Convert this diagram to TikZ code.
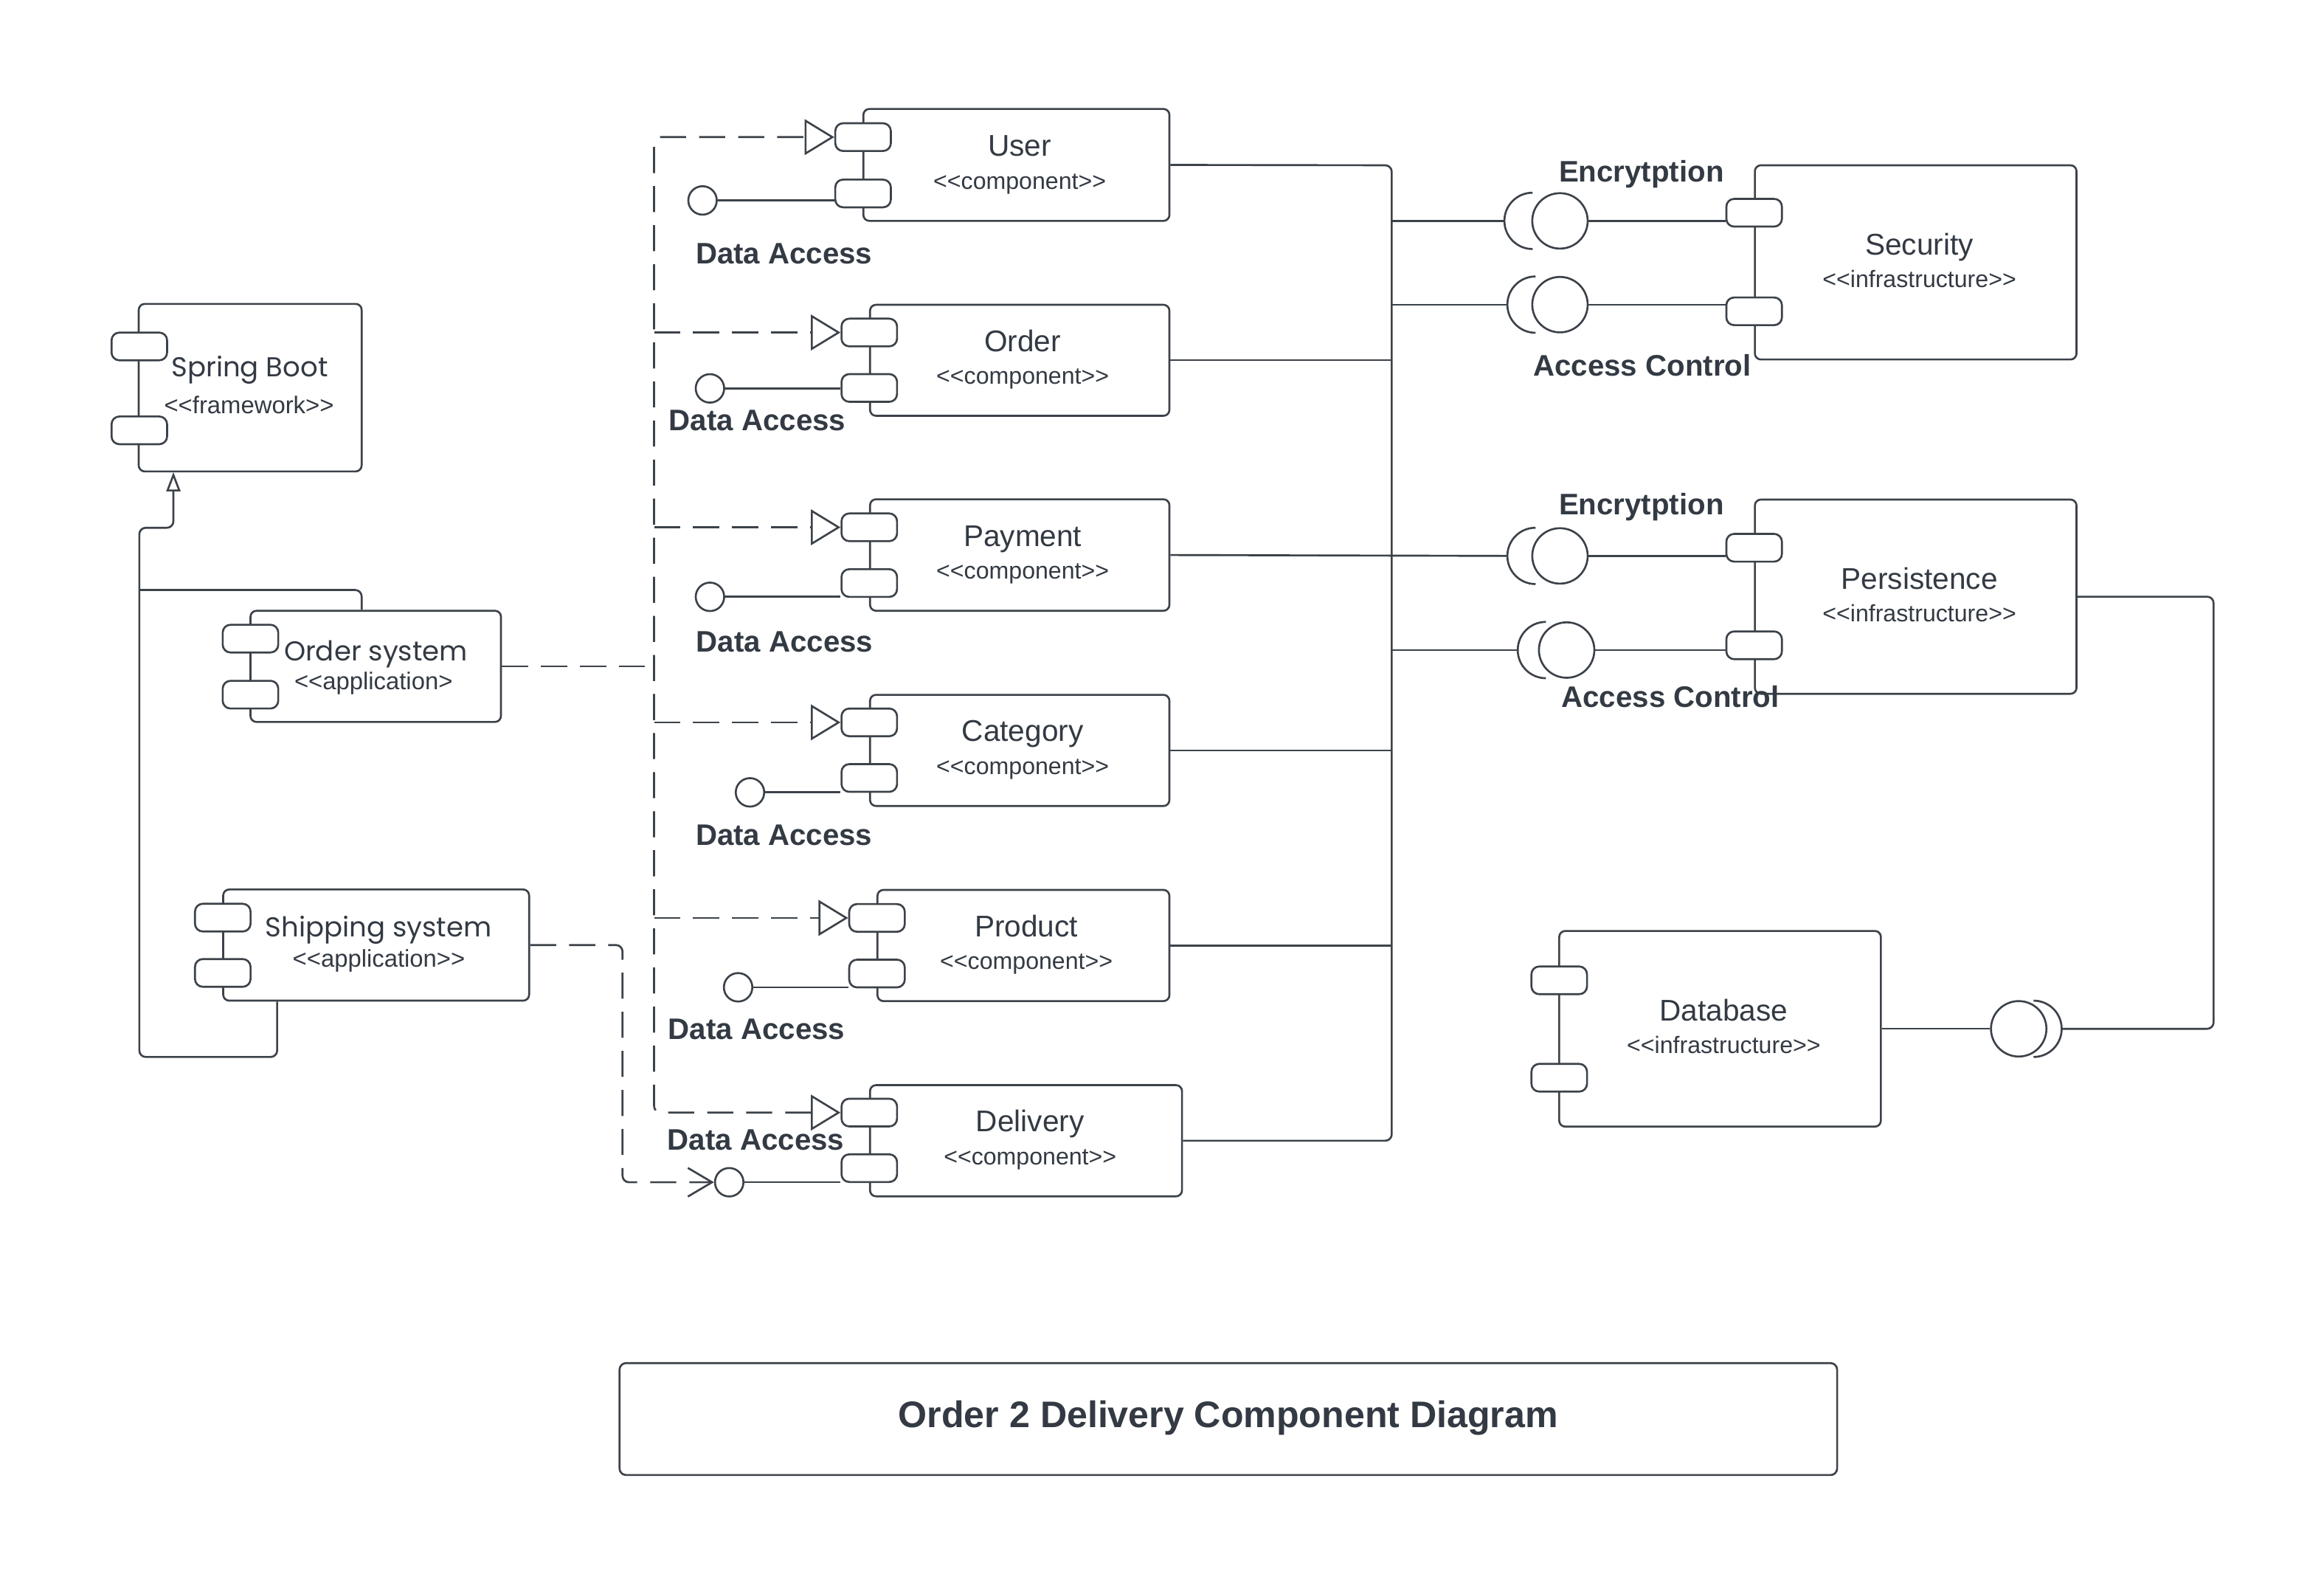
\documentclass[tikz,border=0pt]{standalone}
\usepackage{fontspec}
\setmainfont{Liberation Sans}
\newfontfamily\geo{Poppins}
\usetikzlibrary{arrows.meta}
\definecolor{ink}{HTML}{3C4249}
\definecolor{txt}{HTML}{333A43}
\newcommand\dlt{<\kern0pt<}
\newcommand\dgt{>\kern0pt>}
\newcommand\compbox[8]{%
  \node[box, minimum width={(#4-#2)*0.02cm}, minimum height={(#5-#3)*0.02cm}] (#1) at ({(#2+#4)/2},{(#3+#5)/2}) {};
  \node[port] (#1p1) at (#6,#7) {};
  \node[port] (#1p2) at (#6,#8) {};
}
\tikzset{
  mytri/.tip={Triangle[open,length=11.4pt,width=13.7pt,line width=0.75pt]},
  mybarb/.tip={Straight Barb[length=9.3pt,width=11pt,line width=0.75pt]},
  mygen/.tip={Triangle[open,length=7.4pt,width=5.4pt,line width=0.75pt]}
}
\begin{document}
\begin{tikzpicture}[x=0.02cm,y=-0.02cm,line join=round,
  box/.style={draw=ink, line width=0.75pt, rounded corners=2.3pt, fill=white, inner sep=0pt},
  port/.style={draw=ink, line width=0.75pt, rounded corners=3pt, fill=white, minimum width=0.75cm, minimum height=0.374cm, inner sep=0pt},
  conn/.style={draw=ink, line width=0.75pt, rounded corners=2.5pt},
  thinconn/.style={draw=ink, line width=0.45pt},
  dep/.style={draw=ink, line width=0.75pt, dash pattern=on 10pt off 5pt, rounded corners=2.5pt},
  ball/.style={circle, draw=ink, line width=0.75pt, fill=white, inner sep=0pt},
  sock/.style={draw=ink, line width=0.75pt},
  nm/.style={font=\fontsize{11.5}{13}\selectfont, text=txt, anchor=base, inner sep=0pt},
  st/.style={font=\fontsize{9.1}{11}\selectfont, text=txt, anchor=base, inner sep=0pt},
  gnm/.style={font=\geo\fontsize{10.5}{12}\selectfont, text=txt, anchor=base, inner sep=0pt},
  gst/.style={font=\fontsize{9.3}{11}\selectfont, text=txt, anchor=base, inner sep=0pt},
  lbl/.style={font=\bfseries\fontsize{11.4}{13}\selectfont, text=txt, anchor=base, inner sep=0pt},
  ttl/.style={font=\bfseries\fontsize{14.2}{16}\selectfont, text=txt, anchor=base, inner sep=0pt}
]
\fill[white] (0,0) rectangle (1568,1071);
\useasboundingbox (0,0) rectangle (1568,1071);

% ---------- components ----------
\compbox{spring}{93.6}{205}{244}{318}{94}{233.7}{290.3}
\compbox{os}{169}{412}{338}{487}{169}{430.8}{468.6}
\compbox{ship}{150.6}{600}{357}{675}{150.3}{619}{656.3}
\compbox{user}{582.5}{73.5}{789}{149}{582.3}{92.5}{130.5}
\compbox{order}{587}{205.6}{789}{280.5}{586.5}{224.3}{261.7}
\compbox{payment}{587}{336.8}{789}{412}{586.5}{355.7}{393.3}
\compbox{category}{587}{468.7}{789}{543.7}{586.5}{487.3}{524.8}
\compbox{product}{592}{600.3}{789}{675.3}{591.7}{619.2}{656.7}
\compbox{delivery}{587}{732}{797.5}{807}{586.5}{750.5}{788}
\compbox{security}{1184}{111.5}{1401}{242.5}{1183.5}{143.5}{210}
\compbox{persistence}{1184}{337}{1401}{468}{1183.5}{369.5}{435.3}
\compbox{database}{1052}{628}{1269}{760}{1052}{661.3}{727}

% ---------- texts ----------
\node[gnm] (springN) at (168.5,254) {Spring Boot};
\node[gst] (springS) at (168,279) {\dlt framework\dgt};
\node[gnm] (osN) at (253.6,446) {Order system};
\node[gst] (osS) at (252,465) {\dlt application>};
\node[gnm] (shipN) at (255.5,632) {Shipping system};
\node[gst] (shipS) at (255.6,652.5) {\dlt application\dgt};

\node[nm] (userN) at (688,105.5) {User};
\node[st] (userS) at (688,127.5) {\dlt component\dgt};
\node[nm] (orderN) at (690,237) {Order};
\node[st] (orderS) at (690,259) {\dlt component\dgt};
\node[nm] (paymentN) at (690,368.5) {Payment};
\node[st] (paymentS) at (690,390.5) {\dlt component\dgt};
\node[nm] (categoryN) at (690,500.2) {Category};
\node[st] (categoryS) at (690,522.2) {\dlt component\dgt};
\node[nm] (productN) at (692.5,631.8) {Product};
\node[st] (productS) at (692.5,653.8) {\dlt component\dgt};
\node[nm] (deliveryN) at (695,763.5) {Delivery};
\node[st] (deliveryS) at (695,785.5) {\dlt component\dgt};
\node[nm] (securityN) at (1295,172) {Security};
\node[st] (securityS) at (1295,194) {\dlt infrastructure\dgt};
\node[nm] (persistenceN) at (1295,397.5) {Persistence};
\node[st] (persistenceS) at (1295,419.5) {\dlt infrastructure\dgt};
\node[nm] (databaseN) at (1163,688.5) {Database};
\node[st] (databaseS) at (1163,710.5) {\dlt infrastructure\dgt};

\node[lbl] (daUser) at (529,178) {Data Access};
\node[lbl] (daOrder) at (511,290.5) {Data Access};
\node[lbl] (daPayment) at (529.4,440) {Data Access};
\node[lbl] (daCategory) at (529,570) {Data Access};
\node[lbl] (daProduct) at (510.5,701) {Data Access};
\node[lbl] (daDelivery) at (510,775.6) {Data Access};
\node[lbl] (encS) at (1107.5,122.5) {Encrytption};
\node[lbl] (acS) at (1108,253.5) {Access Control};
\node[lbl] (encP) at (1107.5,347) {Encrytption};
\node[lbl] (acP) at (1127,477) {Access Control};

% ---------- provided interfaces (Data Access) ----------
\node[ball, minimum size=0.384cm] (uc) at (474,135.2) {};
\node[ball, minimum size=0.384cm] (oc) at (479,262) {};
\node[ball, minimum size=0.384cm] (pc) at (479,402.6) {};
\node[ball, minimum size=0.384cm] (cc) at (506,534.5) {};
\node[ball, minimum size=0.384cm] (prc) at (498,666) {};
\node[ball, minimum size=0.384cm] (dc) at (492,797.5) {};
\draw[conn] (uc.east) -- (uc.east -| userp2.west);
\draw[conn] (oc.east) -- (oc.east -| orderp2.west);
\draw[conn] (pc.east) -- (pc.east -| paymentp2.west);
\draw[conn] (cc.east) -- (cc.east -| categoryp2.west);
\draw[conn] (prc.east) -- (prc.east -| productp2.west);
\draw[conn] (dc.east) -- (dc.east -| deliveryp2.west);

% ---------- dependency bus (dashed) ----------
\coordinate (c441) at (441.3,0);
\coordinate (c441top) at (441.3,92.5);
\draw[dep, mytri-mytri] (deliveryp1.west) -| (c441top) -- (userp1.west);
\draw[dep, -mytri] (orderp1.west -| c441) -- (orderp1.west);
\draw[dep, -mytri] (paymentp1.west -| c441) -- (paymentp1.west);
\draw[dep, -mytri] (categoryp1.west -| c441) -- (categoryp1.west);
\draw[dep, -mytri] (productp1.west -| c441) -- (productp1.west);
\draw[dep] (os.east) -- (os.east -| c441);
\coordinate (c420) at (420,797.5);
\draw[dep, -mybarb] (ship.east) -| (c420) -- (dc.west);

% ---------- generalization to Spring Boot ----------
\coordinate (c187) at (187,0);
\coordinate (c244) at (244,0);
\coordinate (g1) at (187,713);
\coordinate (g2) at (94,713);
\coordinate (g3) at (94,356);
\coordinate (g4) at (117,356);
\coordinate (gtip) at (117,318.5);
\coordinate (g5) at (244,398);
\coordinate (g6) at (94,398);
\draw[conn, -mygen] (ship.south -| c187) -- (g1) -- (g2) -- (g3) -- (g4) -- (gtip);
\draw[conn] (os.north -| c244) -- (g5) -- (g6);

% ---------- right bus ----------
\coordinate (busT) at (939,111.5);
\coordinate (busB) at (939,769.5);
\draw[conn] (user.east) -- (busT) -- (busB) -- (delivery.east);
\draw[thinconn] (order.east) -- (order.east -| busT);
\draw[thinconn] (category.east) -- (category.east -| busT);
\draw[conn] (product.east) -- (product.east -| busT);

% ---------- required / provided interfaces (lollipops) ----------
\node[ball, minimum size=0.748cm] (secEncB) at (1052.5,149) {};
\node[ball, minimum size=0.748cm] (secACB) at (1052.5,205.5) {};
\node[ball, minimum size=0.748cm] (perEncB) at (1052.5,375) {};
\node[ball, minimum size=0.748cm] (perACB) at (1057,438.5) {};
\node[ball, minimum size=0.748cm] (dbB) at (1362,694) {};
\draw[sock] (1034,130) arc[start angle=90, end angle=270, radius=0.38cm];
\draw[sock] (1036,186.5) arc[start angle=90, end angle=270, radius=0.38cm];
\draw[sock] (1036,356) arc[start angle=90, end angle=270, radius=0.38cm];
\draw[sock] (1043,419.5) arc[start angle=90, end angle=270, radius=0.38cm];
\draw[sock] (1372,675) arc[start angle=90, end angle=-90, radius=0.38cm];
\coordinate (secEncS) at (1015,149);
\coordinate (secACS) at (1017,205.5);
\coordinate (perEncS) at (1017,375);
\coordinate (perACS) at (1024,438.5);
\coordinate (dbS) at (1391,694);
\coordinate (dbR) at (1493.5,694);

\draw[conn] (busT |- secEncS) -- (secEncS);
\draw[thinconn] (busT |- secACS) -- (secACS);
\draw[conn] (payment.east) -- (perEncS);
\draw[thinconn] (busT |- perACS) -- (perACS);
\draw[conn] (secEncB.east) -- (secEncB.east -| securityp1.west);
\draw[thinconn] (secACB.east) -- (secACB.east -| securityp2.west);
\draw[conn] (perEncB.east) -- (perEncB.east -| persistencep1.west);
\draw[thinconn] (perACB.east) -- (perACB.east -| persistencep2.west);
\draw[thinconn] (database.east) -- (dbB.west);
\draw[conn] (persistence.east) -| (dbR) -- (dbS);

% ---------- title ----------
\node[box, rounded corners=2.5pt, minimum width={821.5*0.02cm}, minimum height={75.5*0.02cm}] (title) at (828.75,957.25) {};
\node[ttl] (titleT) at (828.75,963) {Order 2 Delivery Component Diagram};
\end{tikzpicture}
\end{document}
